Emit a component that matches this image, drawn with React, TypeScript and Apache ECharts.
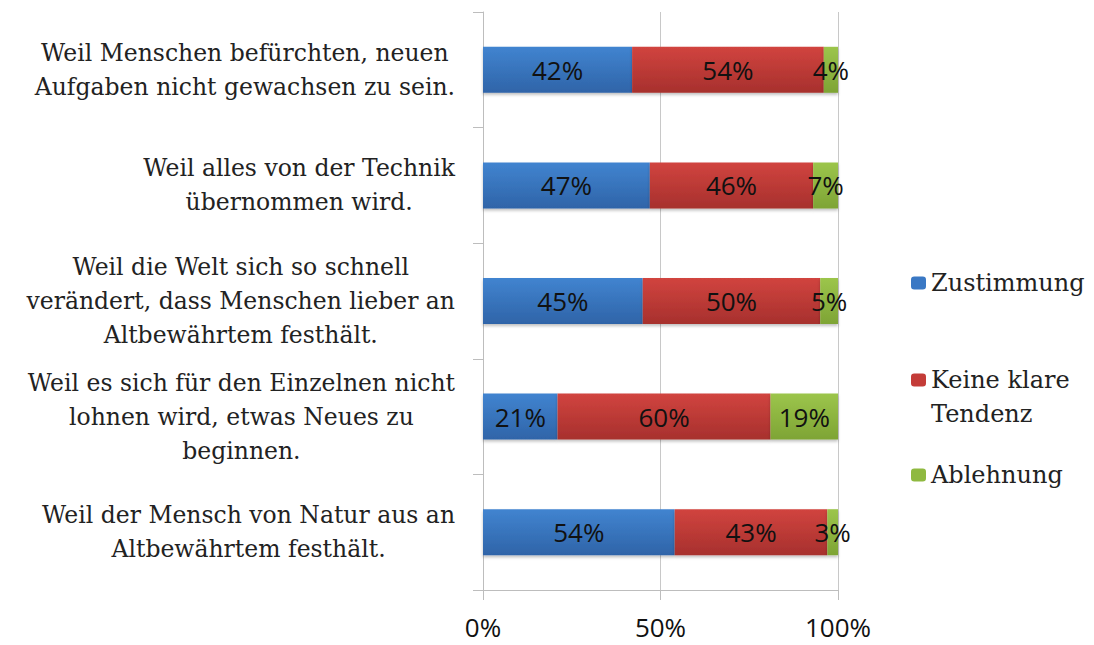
import React, { useEffect, useRef } from "react";
import * as echarts from "echarts";

const categories = [
  "Weil Menschen befürchten, neuen\nAufgaben nicht gewachsen zu sein.",
  "Weil alles von der Technik\nübernommen wird.",
  "Weil die Welt sich so schnell\nverändert, dass Menschen lieber an\nAltbewährtem festhält.",
  "Weil es sich für den Einzelnen nicht\nlohnen wird, etwas Neues zu\nbeginnen.",
  "Weil der Mensch von Natur aus an\nAltbewährtem festhält.",
];
const zustimmung = [42, 47, 45, 21, 54];
const keineKlareTendenz = [54, 46, 50, 60, 43];
const ablehnung = [4, 7, 5, 19, 3];
const seriesNames = ["Zustimmung", "Keine klare Tendenz", "Ablehnung"];
const xTicks = [0, 50, 100];

const SERIF = "'DejaVu Serif', serif";
const SANS = "'Open Sans', sans-serif";

function grad(top: string, bottom: string) {
  return new echarts.graphic.LinearGradient(0, 0, 0, 1, [
    { offset: 0, color: top },
    { offset: 1, color: bottom },
  ]);
}

export default function App() {
  const ref = useRef<HTMLDivElement>(null);
  useEffect(() => {
    document.body.style.margin = "0";
    const chart = echarts.init(ref.current!, null, { renderer: "svg" });
    const colors = [
      grad("#4184d0", "#2f64a8"),
      grad("#d1443f", "#a7302d"),
      grad("#9cc54b", "#7ea435"),
    ];
    const flat = ["#3a78c4", "#c43c38", "#8fb940"];
    const dataSets = [zustimmung, keineKlareTendenz, ablehnung];
    const labelStyle = {
      show: true,
      position: "inside",
      color: "#111",
      fontFamily: SANS,
      fontSize: 26,
      formatter: "{c}%",
    };
    const legendTops = [261, 324, 453];
    chart.setOption({
      animation: false,
      backgroundColor: "#fff",
      grid: { left: 483, right: 256, top: 12, bottom: 55, containLabel: false },
      xAxis: {
        type: "value",
        min: 0,
        max: 100,
        interval: 50,
        axisLine: { show: true, lineStyle: { color: "#bdbdbd", width: 1 } },
        axisTick: { show: true, length: 10, lineStyle: { color: "#bdbdbd" } },
        splitLine: { show: true, lineStyle: { color: "#c8c8c8", width: 1 } },
        axisLabel: {
          formatter: (v: number) => (xTicks.includes(v) ? v + "%" : ""),
          fontFamily: SANS,
          fontSize: 26,
          color: "#111",
          margin: 24,
        },
      },
      yAxis: {
        type: "category",
        inverse: true,
        data: categories,
        axisLine: { show: true, lineStyle: { color: "#bdbdbd", width: 1 } },
        axisTick: { show: true, length: 10, lineStyle: { color: "#bdbdbd" } },
        axisLabel: {
          margin: 28,
          formatter: (v: string) =>
            v
              .split("\n")
              .map((l) => "{c|" + l + "}")
              .join("\n"),
          rich: {
            c: {
              align: "center",
              fontFamily: SERIF,
              fontSize: 23.5,
              lineHeight: 34,
              color: "#222",
            },
          },
        },
      },
      legend: seriesNames.map((n, i) => ({
        orient: "vertical",
        left: 906,
        top: legendTops[i],
        itemWidth: 15,
        itemHeight: 13,
        itemGap: 8,
        selectedMode: false,
        data: [n],
        formatter: (name: string) =>
          name === "Keine klare Tendenz" ? "\nKeine klare\nTendenz" : name,
        textStyle: {
          fontFamily: SERIF,
          fontSize: 24,
          lineHeight: 34,
          color: "#222",
        },
        itemStyle: { color: flat[i] },
      })),
      series: seriesNames.map((n, i) => ({
        name: n,
        type: "bar",
        stack: "total",
        barWidth: 46,
        data: dataSets[i],
        label: labelStyle,
        itemStyle: {
          color: colors[i],
          shadowColor: "rgba(0,0,0,0.25)",
          shadowBlur: 3,
          shadowOffsetY: 2,
        },
      })),
    });
    return () => chart.dispose();
  }, []);
  return (
    <div
      ref={ref}
      style={{ position: "absolute", left: 0, top: 0, width: 1094, height: 645 }}
    />
  );
}
